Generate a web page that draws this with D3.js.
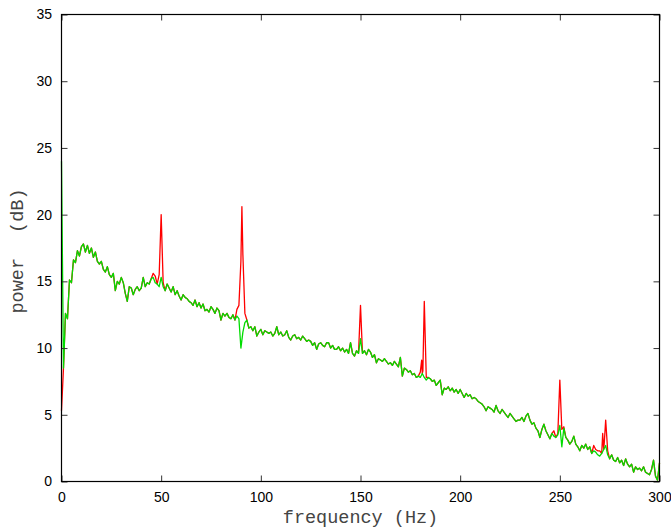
<!DOCTYPE html>
<html>
<head>
<meta charset="utf-8">
<script src="https://cdn.jsdelivr.net/npm/d3@7"></script>
<style>
  html, body { margin: 0; padding: 0; background: #fff; }
  svg { display: block; }
</style>
</head>
<body>
<svg id="chart" width="671" height="531"></svg>
<script>
// ---- data ----
// green series: power (dB) at 1 Hz steps, 0..300 Hz
const greenValues = [
  24.0, 8.5, 12.6, 12.2, 15.1, 14.9, 16.6, 16.4, 17.3, 16.9,
  17.6, 17.8, 17.2, 17.7, 17.1, 17.5, 16.8, 17.2, 16.5, 16.3,
  16.5, 15.9, 15.7, 16.1, 15.5, 15.3, 15.6, 14.3, 15.0, 14.8,
  15.3, 14.9, 14.1, 13.5, 14.6, 14.5, 14.0, 14.4, 14.6, 14.3,
  14.5, 15.3, 14.6, 14.9, 14.8, 15.2, 15.3, 14.9, 14.8, 14.6,
  15.3, 14.6, 14.3, 14.8, 14.5, 14.2, 14.6, 14.0, 14.3, 13.9,
  13.6, 14.0, 13.8, 13.7, 13.5, 13.4, 13.2, 13.6, 13.1, 13.4,
  13.0, 13.3, 12.8, 12.9, 12.7, 13.1, 12.9, 12.6, 13.0, 12.8,
  12.1, 12.6, 12.4, 12.6, 12.3, 12.2, 12.5, 12.1, 12.4, 12.2,
  10.0, 11.2, 11.9, 12.1, 11.5, 11.6, 11.3, 11.6, 10.9, 11.2,
  11.4, 11.0, 11.3, 11.2, 11.1, 11.2, 10.9, 11.1, 11.6, 11.0,
  11.2, 10.9, 11.0, 11.3, 10.8, 10.6, 10.9, 11.0, 10.7, 10.8,
  10.6, 10.9, 10.7, 10.5, 10.6, 10.5, 10.2, 10.4, 9.9, 10.3,
  10.4, 10.2, 10.1, 10.4, 10.4, 10.0, 10.2, 9.9, 9.9, 10.1,
  9.8, 10.0, 9.7, 9.9, 9.6, 10.4, 9.6, 9.4, 9.8, 9.6,
  10.7, 9.6, 9.8, 9.5, 9.9, 9.7, 9.3, 9.5, 8.9, 9.2,
  9.1, 9.0, 9.2, 9.0, 8.8, 8.9, 8.7, 9.0, 8.8, 8.6,
  9.3, 7.9, 8.5, 8.4, 8.2, 8.3, 8.0, 8.1, 7.8, 7.9,
  7.8, 8.1, 7.8, 7.6, 7.8, 7.7, 7.5, 7.6, 7.2, 7.4,
  7.6, 6.5, 7.0, 6.9, 7.1, 6.8, 7.0, 6.7, 6.9, 6.6,
  6.9, 6.6, 6.3, 6.6, 6.4, 6.5, 6.2, 6.3, 6.2, 6.0,
  5.9, 5.8, 5.6, 5.3, 5.6, 5.5, 5.4, 5.2, 5.7, 5.3,
  5.1, 5.4, 5.2, 5.0, 4.8, 5.1, 4.9, 4.7, 4.5, 4.6,
  4.6, 4.8, 4.5, 4.9, 5.1, 4.6, 4.3, 4.4, 4.0, 3.8,
  3.3, 3.9, 4.3, 3.8, 3.5, 3.2, 3.6, 3.4, 3.3, 3.5,
  4.2, 2.6, 4.0, 3.3, 3.1, 2.8, 3.0, 3.4, 2.8, 2.6,
  2.3, 2.7, 2.5, 2.8, 2.4, 2.6, 2.1, 2.3, 2.2, 2.0,
  1.9, 2.1, 2.4, 2.7, 2.0, 1.7, 2.0, 1.6, 1.5, 1.8,
  1.4, 1.6, 1.2, 1.7, 1.3, 1.1, 1.3, 0.7, 1.1, 0.9,
  1.0, 0.8, 1.1, 0.7, 0.6, 0.5, 0.9, 1.6, 0.4, 0.1,
  1.4
];
const greenStep = 1; // Hz between green samples

// red series: same as green except at these [frequency, dB] points
const redFreqs = [0, 46, 47, 49, 50, 51, 88, 89, 90, 90.5, 91, 92,
  149, 150, 151, 180, 180.7, 181.3, 182, 183,
  247, 249, 250, 251, 252, 267, 268, 269, 270, 271.5, 272.3, 273, 274];
const redValues = [5.3, 15.6, 15.4, 15.5, 20.0, 14.9, 12.9, 13.2, 16.5, 20.6, 17.0, 12.6,
  9.6, 13.2, 9.6, 8.2, 9.1, 8.3, 13.5, 7.8,
  3.8, 3.6, 7.6, 3.9, 4.1, 2.7, 2.4, 2.3, 2.3, 3.6, 2.9, 4.6, 2.3];

const xTicks = [0, 50, 100, 150, 200, 250, 300];
const yTicks = [0, 5, 10, 15, 20, 25, 30, 35];
const xLabel = "frequency (Hz)";
const yLabel = "power (dB)";

// ---- build series ----
const greenData = greenValues.map((v, i) => ({ f: i * greenStep, v }));
const redMap = new Map(redFreqs.map((f, i) => [f, redValues[i]]));
const redData = greenData.map(d => ({ f: d.f, v: redMap.has(d.f) ? redMap.get(d.f) : d.v }));
redFreqs.forEach((f, i) => { if (!Number.isInteger(f)) redData.push({ f, v: redValues[i] }); });
redData.sort((a, b) => a.f - b.f);

// ---- layout ----
const svg = d3.select("#chart");
const mLeft = 61.5, mRight = 659.5, mTop = 14.5, mBottom = 481.5;
const x = d3.scaleLinear().domain([0, 300]).range([mLeft, mRight]);
const y = d3.scaleLinear().domain([0, 35]).range([mBottom, mTop]);

const line = d3.line().x(d => x(d.f)).y(d => y(d.v));

svg.append("path").datum(redData)
  .attr("d", line).attr("fill", "none")
  .attr("stroke", "#ff0000").attr("stroke-width", 1.3).attr("stroke-linejoin", "round");
svg.append("path").datum(greenData)
  .attr("d", line).attr("fill", "none")
  .attr("stroke", "#00dd00").attr("stroke-width", 1.3).attr("stroke-linejoin", "round");

// axes (ticks inside, mirrored)
const tickLen = 6;
const axisStyle = g => {
  g.select(".domain").remove();
  g.selectAll(".tick line").attr("stroke", "#333").attr("stroke-width", 1);
  g.selectAll(".tick text").attr("font-family", "Liberation Sans, Arial, sans-serif")
    .attr("font-size", 14).attr("fill", "#000");
};
svg.append("g").attr("transform", `translate(0,${mBottom})`)
  .call(d3.axisBottom(x).tickValues(xTicks).tickSizeInner(-tickLen).tickSizeOuter(0).tickPadding(11).tickFormat(d3.format("d")))
  .call(axisStyle);
svg.append("g").attr("transform", `translate(0,${mTop})`)
  .call(d3.axisTop(x).tickValues(xTicks).tickSizeInner(-tickLen).tickSizeOuter(0).tickFormat(""))
  .call(axisStyle);
svg.append("g").attr("transform", `translate(${mLeft},0)`)
  .call(d3.axisLeft(y).tickValues(yTicks).tickSizeInner(-tickLen).tickSizeOuter(0).tickPadding(9.5).tickFormat(d3.format("d")))
  .call(axisStyle);
svg.append("g").attr("transform", `translate(${mRight},0)`)
  .call(d3.axisRight(y).tickValues(yTicks).tickSizeInner(-tickLen).tickSizeOuter(0).tickFormat(""))
  .call(axisStyle);

// frame
svg.append("rect").attr("x", mLeft).attr("y", mTop)
  .attr("width", mRight - mLeft).attr("height", mBottom - mTop)
  .attr("fill", "none").attr("stroke", "#000").attr("stroke-width", 1.2);

// axis titles
svg.append("text").attr("x", (mLeft + mRight) / 2).attr("y", 523)
  .attr("text-anchor", "middle").attr("font-family", "Liberation Mono, Courier New, monospace")
  .attr("font-size", 18.5).attr("fill", "#444").text(xLabel);
svg.append("text").attr("transform", `translate(23,251) rotate(-90)`)
  .attr("text-anchor", "middle").attr("font-family", "Liberation Mono, Courier New, monospace")
  .attr("font-size", 18.5).attr("word-spacing", 14).attr("fill", "#444").text(yLabel);
</script>
</body>
</html>
